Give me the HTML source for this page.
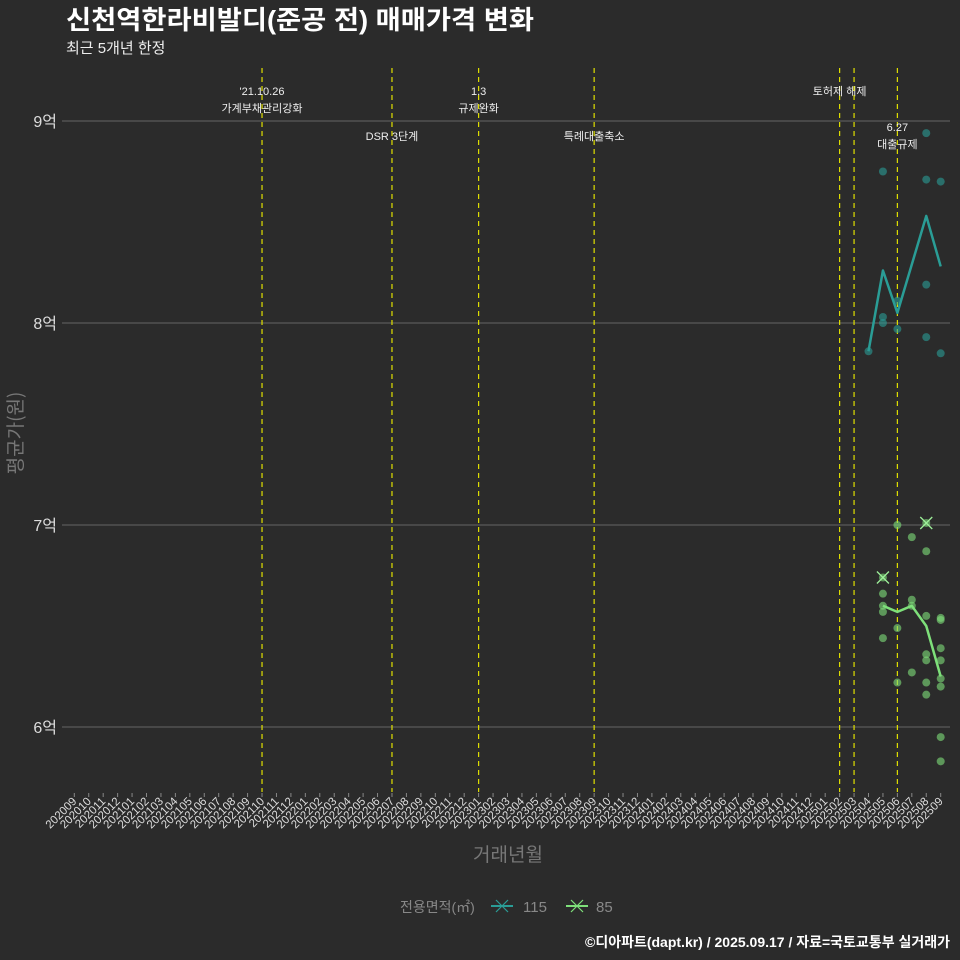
<!DOCTYPE html>
<html><head><meta charset="utf-8"><style>
html,body{margin:0;padding:0;background:#2b2b2b;}
svg{display:block;font-family:"Liberation Sans","Noto Sans CJK KR",sans-serif;}
</style></head><body>
<svg id="chart" width="960" height="960" viewBox="0 0 960 960" xmlns="http://www.w3.org/2000/svg">
<rect width="960" height="960" fill="#2b2b2b"/>
<text x="66" y="29" font-size="26" font-weight="bold" fill="#fff" textLength="468" lengthAdjust="spacingAndGlyphs">신천역한라비발디(준공 전) 매매가격 변화</text>
<text x="66" y="53" font-size="15" fill="#eee">최근 5개년 한정</text>
<g id="grid"></g><g id="vlines"></g><g id="marks"></g><g id="xaxis"></g>
<text transform="translate(22,433) rotate(-90)" text-anchor="middle" font-size="19" fill="#777" font-family="Noto Sans CJK KR, sans-serif">평균가(원)</text>
<text x="508" y="861" text-anchor="middle" font-size="19" fill="#777">거래년월</text>
<g>
<text x="400" y="912" font-size="14" fill="#888">전용면적(㎡)</text>
<g>
<line x1="491" y1="906" x2="513" y2="906" stroke="#2a9d96" stroke-width="2"/><line x1="496" y1="900" x2="508" y2="912" stroke="#2a9d96" stroke-width="1.2"/><line x1="496" y1="912" x2="508" y2="900" stroke="#2a9d96" stroke-width="1.2"/>
<text x="523" y="912" font-size="15" fill="#888">115</text></g>
<g>
<line x1="566" y1="906" x2="588" y2="906" stroke="#7ee07a" stroke-width="2"/><line x1="571" y1="900" x2="583" y2="912" stroke="#7ee07a" stroke-width="1.2"/><line x1="571" y1="912" x2="583" y2="900" stroke="#7ee07a" stroke-width="1.2"/>
<text x="596" y="912" font-size="15" fill="#888">85</text></g>
</g>
<text x="950" y="947" text-anchor="end" font-size="14" font-weight="bold" fill="#fff">©디아파트(dapt.kr) / 2025.09.17 / 자료=국토교통부 실거래가</text>
</svg>
<script>
const months = [];
for (let y = 2020, m = 9; months.length < 61; ) { months.push(y + String(m).padStart(2, '0')); m++; if (m > 12) { m = 1; y++; } }
const yTicks = [6, 7, 8, 9];
const yTickLabels = ['6억', '7억', '8억', '9억'];
const eventMonths = ['202110', '202207', '202301', '202309', '202502', '202503', '202506'];
const eventLine1 = ["'21.10.26", '', '1.3', '', '토허제 해제', '', '6.27'];
const eventLine2 = ['가계부채관리강화', 'DSR 3단계', '규제완화', '특례대출축소', '', '', '대출규제'];
const eventLevel = [0, 1, 0, 1, 0, 0, 2];
const mean115Months = ['202504', '202505', '202506', '202508', '202509'];
const mean115 = [7.86, 8.26, 8.05, 8.53, 8.28];
const pts115Months = ['202504','202505','202505','202505','202506','202506','202508','202508','202508','202508','202509','202509'];
const pts115 = [7.86, 8.75, 8.03, 8.0, 8.11, 7.97, 8.94, 8.71, 8.19, 7.93, 8.70, 7.85];
const mean85Months = ['202505', '202506', '202507', '202508', '202509'];
const mean85 = [6.60, 6.57, 6.60, 6.50, 6.25];
const pts85Months = ['202505','202505','202505','202505','202506','202506','202506','202507','202507','202507','202507','202508','202508','202508','202508','202508','202508','202509','202509','202509','202509','202509','202509','202509','202509'];
const pts85 = [6.66, 6.60, 6.57, 6.44, 7.0, 6.49, 6.22, 6.94, 6.63, 6.60, 6.27, 6.87, 6.55, 6.36, 6.33, 6.22, 6.16, 6.54, 6.53, 6.39, 6.33, 6.24, 6.20, 5.95, 5.83];
const cross85Months = ['202505', '202508'];
const cross85 = [6.74, 7.01];

const NS = 'http://www.w3.org/2000/svg';
const X0 = 74.3, XS = 14.44, PL = 62, PR = 950, PT = 68, PB = 792;
const xOf = m => X0 + months.indexOf(m) * XS;
const yOf = v => 121 + (9 - v) * 202;
function mk(parent, tag, attrs) { const e = document.createElementNS(NS, tag); for (const k in attrs) e.setAttribute(k, attrs[k]); parent.appendChild(e); return e; }
const grid = document.getElementById('grid'), vl = document.getElementById('vlines'), marks = document.getElementById('marks'), xa = document.getElementById('xaxis');

yTicks.forEach((v, i) => {
  const g = mk(grid, 'line', {x1: PL, x2: PR, y1: yOf(v), y2: yOf(v), stroke: '#5a5a5a', 'stroke-width': 1.2});
  
  
  const t = mk(grid, 'text', {x: 57, y: yOf(v) + 6, 'text-anchor': 'end', 'font-size': 16, fill: '#ddd'});
  t.textContent = yTickLabels[i];
  
  
});

months.forEach(m => {
  const x = xOf(m);
  const tk = mk(xa, 'line', {x1: x, x2: x, y1: 793, y2: 797, stroke: '#888'});
  
  
  const t = mk(xa, 'text', {transform: `translate(${x + 3},${802}) rotate(-45)`, 'text-anchor': 'end', 'font-size': 11.5, fill: '#ddd'});
  t.textContent = m;
  
  
});

eventMonths.forEach((m, i) => {
  const x = xOf(m);
  const l = mk(vl, 'line', {x1: x, x2: x, y1: PT, y2: PB, stroke: '#e0e000', 'stroke-width': 1.2, 'stroke-dasharray': '5,4'});
  
  
  const base = [95, 140, 131][eventLevel[i]];
  if (eventLine1[i]) {
    const t = mk(vl, 'text', {x: x, y: base, 'text-anchor': 'middle', 'font-size': 11, fill: '#eee'});
    t.textContent = eventLine1[i];
    
    
  }
  if (eventLine2[i]) {
    const t = mk(vl, 'text', {x: x, y: eventLevel[i] === 1 ? base : base + 17, 'text-anchor': 'middle', 'font-size': 11, fill: '#eee'});
    t.textContent = eventLine2[i];
    
    
  }
});

function series(ptsM, pts, meanM, mean, color, name) {
  ptsM.forEach((m, i) => {
    const c = mk(marks, 'circle', {cx: xOf(m), cy: yOf(pts[i]), r: 4, fill: color, 'fill-opacity': 0.6});
    
    
  });
  const p = mk(marks, 'polyline', {points: meanM.map((m, i) => xOf(m) + ',' + yOf(mean[i])).join(' '), fill: 'none', stroke: color, 'stroke-width': 2.5, 'stroke-linejoin': 'round'});
  
  
}
series(pts115Months, pts115, mean115Months, mean115, '#2a9d96', '115');
series(pts85Months, pts85, mean85Months, mean85, '#7ee07a', '85');
cross85Months.forEach((m, i) => {
  const x = xOf(m), y = yOf(cross85[i]);
  const c = mk(marks, 'circle', {cx: x, cy: y, r: 4, fill: '#7ee07a', 'fill-opacity': 0.6});
  
  
  const p = mk(marks, 'path', {d: `M${x-6},${y-6}L${x+6},${y+6}M${x-6},${y+6}L${x+6},${y-6}`, stroke: '#9ef09a', 'stroke-width': 1.3});
  
  
});
</script>
</body></html>
